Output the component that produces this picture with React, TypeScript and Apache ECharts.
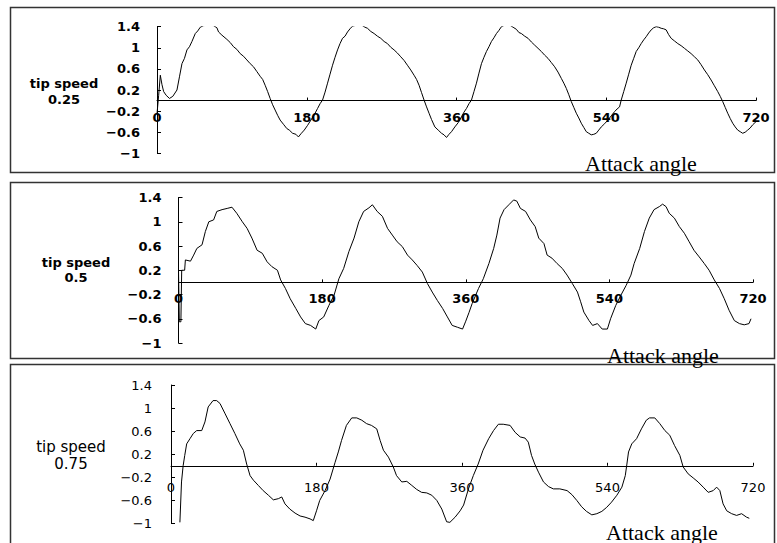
import React, { useEffect, useRef } from "react";
import * as echarts from "echarts";

// ---- data ----
const xTickStep = 180;
const xMax = 720;
const yMin = -1;
const yMax = 1.4;
const yStep = 0.4;
const speedLabels = ["0.25", "0.5", "0.75"];
const yTitle = "tip speed";
const xTitle = "Attack angle";

const tip025: [number, number][] = [
  [0, -0.25], [2, 0.1], [4, 0.48], [6, 0.3], [8, 0.17], [11, 0.1], [15, 0.04], [19, 0.08], [24, 0.2],
  [27, 0.45], [30, 0.7], [33, 0.8], [36, 0.96], [39, 1.02], [42, 1.12], [46, 1.27], [49, 1.32], [52, 1.39],
  [56, 1.42], [62, 1.43], [68, 1.42], [72, 1.38], [74, 1.3], [78, 1.24], [84, 1.16], [88, 1.1], [92, 1.02],
  [96, 0.97], [100, 0.89], [104, 0.84], [108, 0.77], [112, 0.7], [116, 0.64], [120, 0.55], [124, 0.46],
  [127, 0.4], [130, 0.29], [133, 0.17], [136, 0.04], [139, -0.08], [142, -0.18], [145, -0.28], [148, -0.37],
  [152, -0.45], [156, -0.53], [159, -0.56], [163, -0.62], [167, -0.64], [170, -0.69], [173, -0.63],
  [177, -0.56], [181, -0.47], [185, -0.37], [189, -0.27], [193, -0.15], [196, -0.06], [199, 0.01],
  [202, 0.16], [205, 0.33], [208, 0.5], [211, 0.67], [214, 0.82], [217, 0.96], [220, 1.08], [223, 1.18],
  [226, 1.22], [229, 1.3], [232, 1.36], [235, 1.41], [240, 1.43], [246, 1.43], [250, 1.39], [253, 1.37],
  [257, 1.31], [261, 1.27], [265, 1.22], [269, 1.18], [273, 1.12], [277, 1.08], [281, 1.01], [285, 0.96],
  [289, 0.9], [293, 0.83], [297, 0.76], [301, 0.67], [305, 0.58], [309, 0.48], [312, 0.4], [315, 0.29],
  [318, 0.15], [321, 0.01], [324, -0.12], [327, -0.24], [330, -0.36], [334, -0.5], [338, -0.56],
  [342, -0.62], [345, -0.65], [348, -0.7], [351, -0.64], [354, -0.59], [358, -0.5], [362, -0.42],
  [366, -0.31], [369, -0.22], [372, -0.15], [375, -0.06], [378, 0.01], [381, 0.17], [384, 0.33],
  [387, 0.52], [390, 0.7], [393, 0.82], [396, 0.93], [399, 1.02], [402, 1.12], [405, 1.19], [408, 1.27],
  [411, 1.33], [414, 1.4], [418, 1.43], [424, 1.43], [428, 1.39], [432, 1.35], [435, 1.29], [438, 1.27],
  [442, 1.22], [446, 1.18], [450, 1.11], [454, 1.05], [458, 0.99], [462, 0.93], [466, 0.86], [470, 0.8],
  [474, 0.72], [478, 0.64], [482, 0.54], [486, 0.42], [489, 0.33], [492, 0.23], [495, 0.11], [498, -0.02],
  [501, -0.13], [504, -0.24], [507, -0.33], [510, -0.43], [513, -0.51], [516, -0.59], [519, -0.62],
  [522, -0.65], [525, -0.64], [528, -0.62], [531, -0.56], [534, -0.5], [538, -0.44], [542, -0.37],
  [546, -0.29], [550, -0.21], [553, -0.16], [556, -0.12], [558, 0.01], [561, 0.17], [564, 0.33],
  [567, 0.5], [570, 0.67], [573, 0.8], [576, 0.93], [579, 1.0], [582, 1.08], [585, 1.15], [588, 1.21],
  [591, 1.28], [594, 1.34], [597, 1.38], [600, 1.4], [603, 1.39], [606, 1.37], [609, 1.36], [612, 1.34],
  [615, 1.25], [618, 1.18], [622, 1.13], [626, 1.08], [630, 1.04], [634, 0.99], [638, 0.94], [642, 0.89],
  [646, 0.83], [650, 0.77], [654, 0.68], [658, 0.58], [662, 0.49], [666, 0.39], [670, 0.28], [674, 0.17],
  [677, 0.08], [680, -0.02], [683, -0.13], [686, -0.24], [689, -0.34], [692, -0.43], [695, -0.5],
  [698, -0.56], [701, -0.59], [704, -0.62], [707, -0.6], [710, -0.56], [713, -0.52], [716, -0.46],
  [720, -0.4],
];

const tip05: [number, number][] = [
  [0, 0.2], [1, -0.65], [3, -0.65], [4, 0.2], [7.7, 0.2], [8.6, 0.37], [15, 0.35], [19, 0.45],
  [23, 0.56], [29.5, 0.62], [33.7, 0.84], [38, 1.0], [44, 1.03], [48, 1.17], [54.6, 1.2], [61, 1.22],
  [67, 1.24], [73, 1.14], [80, 1.0], [86, 0.89], [92, 0.73], [98.5, 0.53], [105, 0.48], [111, 0.34],
  [117, 0.26], [124, 0.2], [128, 0.04], [134, -0.1], [140, -0.27], [147, -0.43], [153, -0.57],
  [159, -0.68], [165.5, -0.71], [172, -0.77], [176, -0.63], [182, -0.57], [188.5, -0.38], [195, -0.21],
  [201, 0.06], [207, 0.23], [213.6, 0.51], [220, 0.73], [226, 1.0], [232, 1.17], [238.7, 1.23],
  [243, 1.28], [249, 1.17], [255.5, 1.09], [262, 0.89], [268, 0.78], [274, 0.67], [280.5, 0.59],
  [287, 0.45], [293, 0.37], [299, 0.28], [305.6, 0.17], [312, -0.02], [318, -0.16], [324.5, -0.3],
  [331, -0.43], [337, -0.57], [343, -0.71], [349.6, -0.74], [356, -0.77], [360, -0.64], [364, -0.5],
  [368, -0.35], [376, -0.1], [382, 0.06], [389, 0.31], [395, 0.56], [399, 0.78], [403, 1.06], [408, 1.2],
  [414, 1.28], [420, 1.36], [424, 1.34], [428.5, 1.22], [435, 1.17], [441, 1.03], [447, 0.92],
  [451.5, 0.73], [458, 0.64], [462, 0.45], [468, 0.4], [474.5, 0.31], [481, 0.23], [487, 0.12],
  [493.6, -0.02], [500, -0.16], [504, -0.32], [508, -0.49], [514.5, -0.63], [519, -0.71], [525, -0.68],
  [531, -0.77], [537.5, -0.77], [541.5, -0.6], [548, -0.38], [554.5, -0.21], [561, -0.05], [567, 0.12],
  [571, 0.31], [578, 0.56], [584, 0.84], [590, 1.06], [596, 1.2], [602.6, 1.25], [606.7, 1.29],
  [611, 1.25], [615, 1.14], [621.5, 1.06], [627.7, 0.92], [634, 0.81], [640, 0.67], [646, 0.53],
  [652.6, 0.42], [659, 0.31], [665, 0.2], [671.5, 0.04], [678, -0.1], [684, -0.27], [690, -0.46],
  [696.6, -0.63], [703, -0.68], [709, -0.7], [715, -0.68], [717.5, -0.6],
];

const tip075: [number, number][] = [
  [11, -0.98], [13, -0.28], [15, 0.0], [17, 0.18], [19.4, 0.38], [23.5, 0.47], [27.6, 0.56],
  [31.8, 0.61], [38, 0.61], [42, 0.76], [46, 1.02], [52, 1.13], [56.5, 1.13], [60.6, 1.08], [67, 0.9],
  [73, 0.73], [79, 0.56], [85, 0.38], [89.5, 0.27], [93.6, 0.03], [97.8, -0.17], [102, -0.25],
  [108, -0.34], [114, -0.43], [120.5, -0.51], [126.6, -0.59], [132.8, -0.57], [137, -0.54], [141, -0.66],
  [147, -0.75], [153.5, -0.82], [159.7, -0.87], [165.8, -0.89], [172, -0.92], [176, -0.95], [180, -0.78],
  [184, -0.6], [190.6, -0.43], [196.8, -0.23], [203, 0.06], [207, 0.24], [211, 0.44], [217, 0.7],
  [223.6, 0.83], [229.8, 0.83], [236, 0.79], [242, 0.73], [248, 0.7], [254.5, 0.64], [258.7, 0.44],
  [262.8, 0.27], [269, 0.15], [275, -0.02], [279, -0.17], [285.5, -0.28], [291.7, -0.27], [297.9, -0.34],
  [304, -0.41], [310, -0.46], [316.4, -0.47], [322.6, -0.51], [328.8, -0.6], [335, -0.75], [341, -0.97],
  [345, -0.98], [351.5, -0.89], [357.7, -0.78], [362, -0.68], [368, -0.4], [374, -0.17], [380, 0.03],
  [386, 0.27], [393, 0.47], [399, 0.61], [405, 0.72], [411, 0.72], [419.5, 0.7], [425.7, 0.58],
  [432, 0.5], [438, 0.48], [442, 0.41], [446, 0.18], [450, 0.03], [454.6, -0.11], [460.8, -0.28],
  [467, -0.36], [473, -0.4], [481, -0.4], [490, -0.43], [496, -0.5], [502, -0.6], [508, -0.71],
  [514, -0.79], [520.6, -0.85], [526.8, -0.83], [533, -0.79], [539, -0.72], [545, -0.63], [551.6, -0.51],
  [557.8, -0.37], [562, -0.17], [564, 0.03], [566, 0.24], [570, 0.38], [576, 0.47], [582, 0.64],
  [588, 0.79], [592, 0.83], [598.5, 0.83], [604.7, 0.73], [611, 0.61], [617, 0.53], [623, 0.35],
  [629.5, 0.18], [633.6, -0.02], [639.8, -0.14], [646, -0.21], [652, -0.28], [658.4, -0.37],
  [664.6, -0.46], [670.8, -0.43], [675, -0.37], [679, -0.43], [683, -0.66], [687.5, -0.78],
  [693.6, -0.83], [699.7, -0.86], [705.9, -0.83], [712, -0.89], [715.4, -0.91],
];

const seriesData = [tip025, tip05, tip075];

// ---- layout ----
const grids = [
  { left: 157, top: 26.7, width: 599, height: 126.6 },
  { left: 178.5, top: 197.5, width: 574.5, height: 145.5 },
  { left: 171, top: 385, width: 582, height: 138.5 },
];
const panelBoxes = [
  { y: 7, h: 165 },
  { y: 182, h: 176 },
  { y: 364, h: 190 },
];
const fontSans = "'DejaVu Sans', Verdana, sans-serif";
const fontSerif = "'Liberation Serif', 'Times New Roman', serif";
const tickFont = [
  { size: 13, weight: "bold" as const, xMargin: 10.5, yMargin: 17 },
  { size: 13, weight: "bold" as const, xMargin: 9.5, yMargin: 17 },
  { size: 13, weight: "normal" as const, xMargin: 15, yMargin: 19 },
];
const nameCfg = [
  { x: 64, y1: 83, y2: 99, size: 13, weight: "bold" },
  { x: 76, y1: 262, y2: 277, size: 13, weight: "bold" },
  { x: 71, y1: 447, y2: 464, size: 15, weight: "normal" },
];
const xTitleCfg = [
  { x: 585, y: 152 },
  { x: 607, y: 344 },
  { x: 606, y: 521 },
];

const fmtY = (v: number) => {
  const r = Math.round(v * 10) / 10;
  const s = String(Math.abs(r));
  return r < 0 ? "\u2212" + s : s;
};

export default function App() {
  const ref = useRef<HTMLDivElement>(null);
  useEffect(() => {
    document.body.style.margin = "0";
    if (!ref.current) return;
    const chart = echarts.init(ref.current, undefined, { renderer: "svg" });
    const graphic: any[] = [];
    panelBoxes.forEach((b) => {
      graphic.push({
        type: "rect",
        silent: true,
        shape: { x: 10.5, y: b.y + 0.5, width: 764, height: b.h },
        style: { fill: "none", stroke: "#333", lineWidth: 1.5 },
      });
    });
    nameCfg.forEach((n, i) => {
      graphic.push({
        type: "text",
        style: {
          text: yTitle, x: n.x, y: n.y1, align: "center", verticalAlign: "middle",
          font: `${n.weight} ${n.size}px ${fontSans}`, fill: "#000",
        },
      });
      graphic.push({
        type: "text",
        style: {
          text: speedLabels[i], x: n.x, y: n.y2, align: "center", verticalAlign: "middle",
          font: `${n.weight} ${n.size}px ${fontSans}`, fill: "#000",
        },
      });
    });
    xTitleCfg.forEach((t) => {
      graphic.push({
        type: "text",
        style: {
          text: xTitle, x: t.x, y: t.y, align: "left", verticalAlign: "alphabetic",
          font: `normal 22px ${fontSerif}`, fill: "#000",
        },
      });
    });

    chart.setOption({
      animation: false,
      backgroundColor: "#fff",
      grid: grids.map((g) => ({ ...g, containLabel: false })),
      xAxis: grids.map((g, i) => ({
        type: "value",
        gridIndex: i,
        position: "bottom",
        offset: -(g.height * (0 - yMin)) / (yMax - yMin),
        min: 0,
        max: xMax,
        interval: xTickStep,
        axisLine: { show: true, onZero: false, lineStyle: { color: "#000", width: 1 } },
        axisTick: { show: true, inside: true, length: 3, lineStyle: { color: "#000" } },
        axisLabel: {
          show: true, margin: tickFont[i].xMargin, color: "#000",
          fontSize: tickFont[i].size, fontWeight: tickFont[i].weight, fontFamily: fontSans,
          showMinLabel: true, showMaxLabel: true,
        },
        splitLine: { show: false },
      })),
      yAxis: grids.map((_, i) => ({
        type: "value",
        gridIndex: i,
        min: yMin,
        max: yMax,
        interval: yStep,
        axisLine: { show: true, onZero: false, lineStyle: { color: "#000", width: 1 } },
        axisTick: { show: true, inside: true, length: 4, lineStyle: { color: "#000" } },
        axisLabel: {
          show: true, margin: tickFont[i].yMargin, color: "#000",
          fontSize: tickFont[i].size, fontWeight: tickFont[i].weight, fontFamily: fontSans,
          formatter: fmtY, showMinLabel: true, showMaxLabel: true,
        },
        splitLine: { show: false },
      })),
      series: seriesData.map((d, i) => ({
        type: "line",
        xAxisIndex: i,
        yAxisIndex: i,
        data: d,
        showSymbol: false,
        symbol: "none",
        clip: true,
        lineStyle: { color: "#000", width: 1 },
      })),
      graphic,
    });
    return () => chart.dispose();
  }, []);
  return <div ref={ref} style={{ width: 777, height: 543 }} />;
}
